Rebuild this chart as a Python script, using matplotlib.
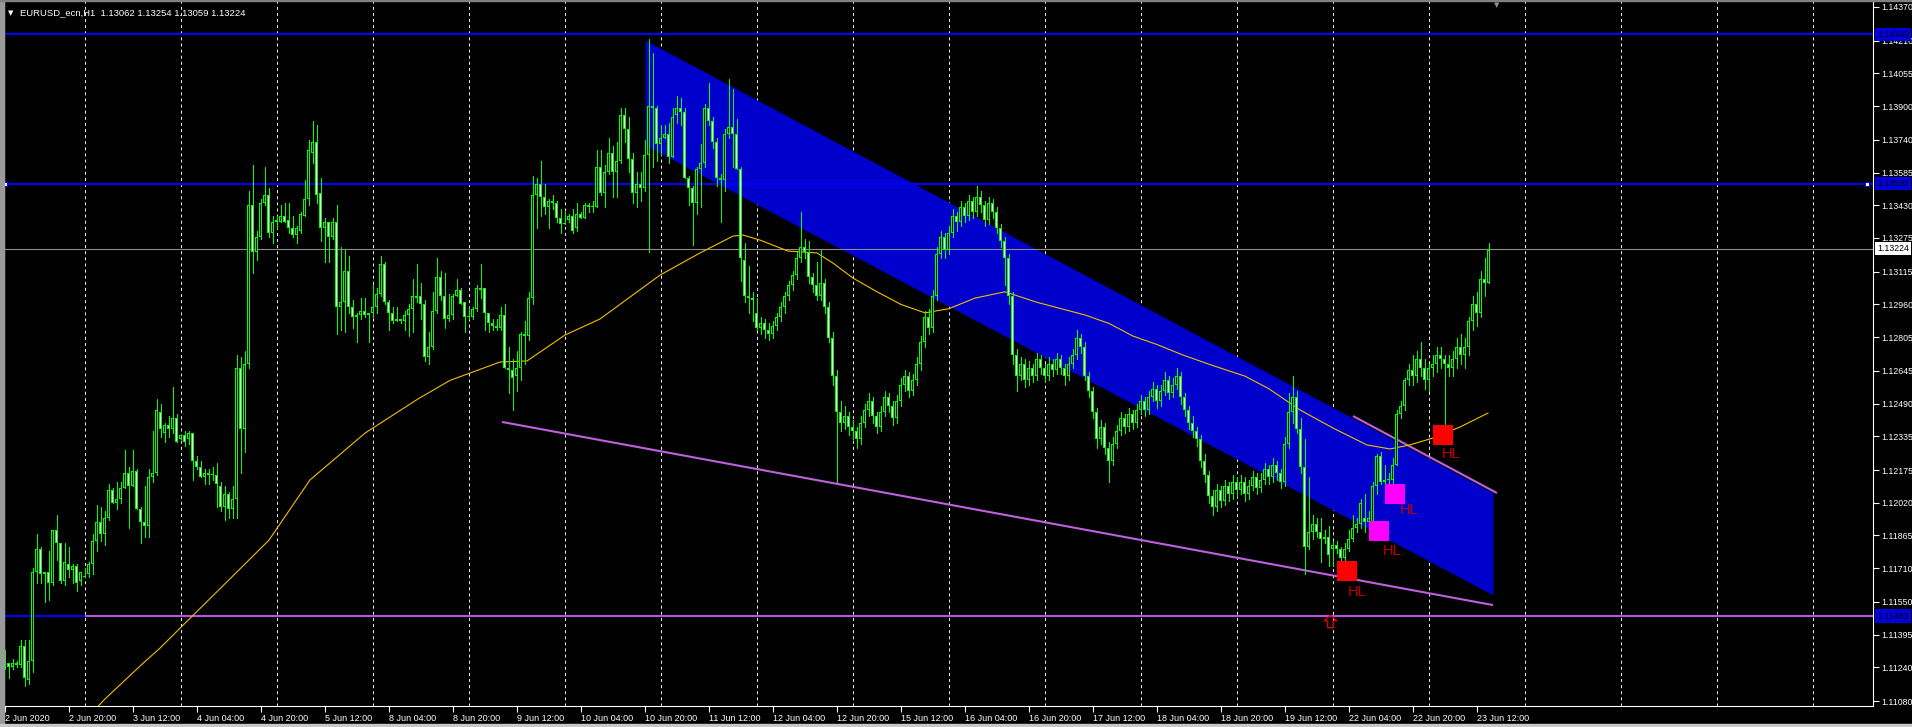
import matplotlib
matplotlib.use("Agg")
import matplotlib.pyplot as plt
from matplotlib.patches import Rectangle
from matplotlib.path import Path

plt.rcParams['font.family'] = ['Liberation Sans', 'DejaVu Sans']
plt.rcParams['lines.scale_dashes'] = False

# EURUSD H1, 2 Jun 2020 04:00 .. 23 Jun 2020 15:00
# prices in pips above 1.1000
BASE = 1.1
PIP = 0.0001

o_pips = [
    131, 126, 124, 126, 125, 134, 118, 127, 169, 180, 168, 169, 164, 189, 183, 165, 173, 170, 172, 165,
    167, 168, 173, 184, 193, 187, 195, 208, 202, 204, 209, 216, 210, 217, 199, 193, 191, 214, 216, 245, 235, 239, 237, 242,
    232, 234, 232, 235, 222, 219, 214, 216, 215, 215, 210, 200, 206, 199, 204, 266, 237, 268, 343, 321, 328, 344, 348, 330,
    335, 335, 338, 336, 332, 329, 331, 338, 346, 368, 373, 349, 332, 335, 328, 335, 295, 297, 312, 295, 290, 291, 293, 291,
    292, 295, 301, 315, 297, 292, 288, 289, 288, 291, 294, 300, 300, 296, 271, 276, 293, 309, 300, 289, 291, 300, 303, 297,
    290, 290, 294, 304, 304, 292, 287, 286, 285, 291, 266, 265, 262, 266, 282, 281, 299, 348, 353, 347, 342, 345, 344, 337,
    334, 336, 338, 332, 339, 337, 343, 342, 342, 361, 349, 359, 368, 359, 364, 386, 379, 365, 349, 353, 351, 367, 390, 389,
    372, 375, 377, 366, 386, 389, 387, 356, 351, 344, 360, 363, 389, 383, 373, 356, 355, 377, 380, 377, 360, 317, 300, 299,
    292, 285, 287, 284, 282, 286, 290, 295, 300, 305, 310, 318, 323, 321, 309, 305, 300, 306, 295, 280, 262, 245, 240, 243,
    238, 236, 232, 240, 246, 250, 243, 238, 245, 252, 248, 242, 250, 258, 262, 255, 260, 268, 278, 290, 285, 300, 320, 328,
    322, 330, 338, 335, 342, 338, 345, 340, 347, 343, 336, 344, 340, 332, 326, 318, 300, 272, 262, 268, 260, 266, 262, 270,
    266, 262, 268, 265, 270, 266, 262, 268, 272, 280, 276, 262, 255, 245, 232, 238, 228, 222, 230, 236, 242, 238, 244, 240,
    246, 250, 246, 252, 256, 250, 255, 260, 254, 258, 262, 252, 246, 240, 236, 232, 222, 215, 205, 200, 208, 203, 210, 206,
    212, 208, 212, 206, 210, 214, 209, 213, 218, 214, 220, 216, 212, 230, 245, 252, 237, 219, 181, 188, 192, 188, 185, 186,
    180, 182, 180, 176, 180, 185, 190, 192, 195, 193, 193, 210, 224, 212, 213, 213, 220, 244, 248, 260, 265, 262, 270, 266,
    260, 266, 268, 272, 270, 268, 266, 270, 276, 272, 276, 288, 296, 292, 308, 306,
]
h_pips = [
    132, 126, 128, 127, 137, 137, 137, 171, 187, 181, 169, 179, 189, 196, 183, 183, 181, 173, 173, 169,
    171, 174, 187, 201, 200, 198, 211, 209, 212, 212, 227, 219, 227, 218, 200, 210, 218, 236, 251, 249, 240, 243, 257, 244,
    234, 236, 236, 235, 224, 222, 218, 218, 219, 221, 212, 210, 207, 210, 272, 271, 274, 350, 362, 331, 346, 361, 351, 338,
    338, 343, 344, 344, 338, 333, 340, 355, 374, 383, 381, 356, 337, 335, 337, 343, 323, 322, 319, 298, 292, 299, 299, 292,
    305, 304, 319, 316, 298, 295, 295, 289, 293, 296, 308, 315, 306, 298, 283, 302, 318, 312, 311, 301, 301, 308, 304, 297,
    295, 295, 305, 315, 304, 292, 289, 289, 295, 296, 276, 270, 274, 283, 288, 302, 357, 356, 364, 353, 346, 348, 345, 341,
    340, 339, 341, 344, 340, 344, 344, 345, 369, 369, 362, 375, 371, 373, 389, 389, 385, 368, 359, 359, 374, 422, 415, 390,
    381, 381, 382, 389, 395, 394, 389, 357, 352, 361, 372, 391, 401, 385, 375, 358, 379, 403, 398, 384, 361, 325, 314, 302,
    299, 290, 289, 287, 288, 292, 297, 302, 307, 312, 321, 340, 327, 326, 311, 316, 322, 308, 297, 283, 265, 250, 248, 245,
    241, 238, 243, 249, 254, 252, 245, 248, 255, 254, 250, 253, 261, 265, 264, 263, 271, 281, 293, 294, 303, 323, 331, 330,
    333, 341, 340, 345, 344, 348, 347, 352, 350, 345, 347, 346, 342, 334, 328, 320, 302, 275, 271, 270, 269, 268, 273, 272,
    268, 271, 270, 273, 272, 268, 271, 275, 284, 282, 278, 264, 257, 247, 241, 240, 231, 233, 239, 245, 244, 247, 246, 249,
    253, 252, 255, 259, 258, 258, 264, 262, 261, 266, 264, 254, 248, 243, 238, 234, 225, 217, 208, 211, 210, 213, 212, 215,
    214, 215, 214, 213, 217, 216, 216, 221, 220, 223, 222, 218, 233, 254, 262, 255, 242, 232, 214, 196, 195, 195, 189, 191,
    184, 184, 181, 183, 189, 196, 195, 204, 206, 198, 212, 225, 226, 220, 216, 223, 246, 250, 261, 268, 272, 274, 278, 270,
    268, 272, 276, 276, 272, 272, 274, 280, 282, 280, 290, 300, 302, 312, 318, 325,
]
l_pips = [
    123, 119, 123, 124, 124, 115, 116, 122, 164, 164, 155, 156, 163, 175, 164, 163, 167, 164, 160, 163,
    167, 167, 168, 179, 184, 182, 194, 202, 199, 202, 209, 190, 210, 199, 183, 186, 186, 212, 215, 233, 231, 233, 235, 231,
    232, 229, 230, 213, 218, 214, 211, 211, 213, 200, 198, 194, 195, 195, 195, 216, 226, 266, 311, 317, 327, 343, 328, 325,
    332, 335, 335, 330, 328, 325, 330, 338, 343, 363, 344, 326, 316, 316, 327, 282, 284, 283, 292, 285, 278, 289, 290, 278,
    290, 292, 300, 296, 284, 287, 288, 287, 284, 281, 283, 297, 289, 269, 268, 275, 292, 298, 285, 288, 289, 300, 296, 283,
    289, 289, 293, 299, 284, 283, 284, 284, 284, 266, 254, 246, 255, 260, 268, 279, 296, 332, 338, 339, 332, 341, 335, 330,
    334, 335, 330, 331, 337, 337, 340, 340, 342, 348, 342, 358, 347, 347, 363, 373, 359, 344, 342, 345, 350, 321, 361, 364,
    367, 375, 363, 366, 382, 381, 356, 343, 324, 339, 342, 361, 381, 370, 352, 335, 350, 375, 361, 360, 307, 297, 292, 288,
    284, 282, 280, 279, 280, 284, 288, 292, 298, 303, 308, 316, 318, 306, 302, 298, 298, 292, 278, 258, 212, 236, 237, 234,
    232, 228, 230, 238, 243, 240, 235, 236, 243, 245, 239, 240, 248, 255, 252, 253, 258, 265, 276, 282, 283, 298, 318, 318,
    320, 328, 331, 333, 335, 336, 337, 338, 340, 333, 334, 337, 330, 323, 305, 296, 268, 255, 260, 257, 258, 259, 260, 263,
    259, 260, 262, 263, 263, 258, 260, 266, 270, 273, 260, 252, 242, 228, 230, 225, 212, 220, 228, 234, 235, 236, 237, 238,
    244, 243, 244, 250, 247, 248, 253, 251, 252, 256, 249, 243, 237, 233, 229, 219, 212, 202, 196, 198, 200, 201, 203, 204,
    205, 206, 203, 204, 208, 206, 207, 211, 211, 212, 213, 209, 210, 228, 240, 235, 216, 168, 180, 185, 186, 174, 183, 172,
    172, 178, 168, 175, 179, 184, 188, 190, 188, 190, 190, 206, 211, 208, 202, 211, 220, 242, 246, 258, 258, 259, 262, 256,
    255, 262, 264, 266, 233, 262, 262, 266, 268, 266, 272, 284, 286, 290, 300, 306,
]
c_pips = [
    126, 124, 126, 125, 134, 119, 127, 169, 180, 168, 169, 164, 189, 183, 165, 174, 170, 172, 164, 169,
    167, 173, 184, 193, 187, 195, 208, 202, 204, 209, 216, 210, 217, 199, 193, 191, 214, 216, 246, 237, 239, 237, 242, 231,
    234, 231, 235, 222, 219, 214, 216, 215, 215, 211, 200, 206, 199, 204, 266, 237, 268, 343, 321, 328, 344, 348, 330, 335,
    336, 338, 335, 332, 329, 332, 339, 346, 369, 373, 348, 332, 335, 328, 335, 295, 297, 312, 295, 290, 291, 293, 291, 292,
    295, 301, 315, 297, 292, 288, 289, 288, 291, 294, 300, 299, 296, 271, 276, 293, 309, 300, 289, 291, 300, 303, 296, 290,
    290, 294, 304, 303, 292, 287, 286, 285, 291, 266, 265, 261, 266, 282, 281, 299, 348, 353, 347, 342, 345, 344, 337, 334,
    334, 338, 331, 339, 337, 343, 342, 342, 361, 349, 359, 368, 359, 364, 386, 379, 365, 349, 353, 351, 367, 390, 389, 372,
    375, 377, 366, 385, 389, 387, 356, 351, 344, 360, 363, 389, 383, 373, 356, 355, 377, 380, 377, 360, 318, 300, 299, 298,
    285, 287, 284, 282, 286, 290, 295, 300, 305, 310, 318, 323, 321, 309, 305, 300, 306, 295, 280, 262, 245, 240, 243, 238,
    236, 232, 240, 246, 250, 243, 238, 245, 252, 248, 242, 250, 258, 262, 255, 260, 268, 278, 290, 285, 300, 320, 328, 322,
    330, 338, 335, 342, 338, 345, 340, 347, 343, 336, 344, 340, 332, 326, 318, 300, 272, 262, 268, 260, 266, 262, 270, 266,
    262, 268, 265, 270, 266, 262, 268, 272, 280, 276, 262, 255, 245, 232, 238, 228, 222, 230, 236, 242, 238, 244, 240, 246,
    250, 246, 252, 256, 250, 255, 260, 254, 258, 262, 252, 246, 240, 236, 232, 222, 215, 205, 200, 208, 203, 210, 206, 212,
    208, 212, 206, 210, 214, 209, 213, 218, 214, 220, 216, 212, 230, 245, 252, 237, 219, 181, 188, 192, 188, 185, 186, 177,
    182, 180, 176, 180, 185, 190, 192, 202, 193, 195, 210, 224, 212, 213, 213, 220, 244, 248, 260, 265, 262, 270, 266, 260,
    266, 268, 272, 270, 268, 266, 270, 276, 272, 276, 288, 296, 292, 308, 306, 322,
]

# moving average (bar index, pips)
ma_bars = [23, 25, 33.75, 38.75, 44, 55, 66, 76.25, 90, 103.25, 111.25, 123.75, 130.5, 140, 148.75,
           163.75, 173.75, 182, 184.5, 188.75, 195.75, 203, 207, 212, 218, 224, 230, 236, 242.5,
           250, 258, 264, 270, 276, 282, 288, 294.5, 302, 310, 316, 323.75, 332, 340.5, 346.25,
           351.25, 357, 363.75, 370.75]
ma_pips = [105, 109, 124.6, 133.1, 143, 163.6, 184.3, 212.8, 235, 251.2, 260, 268.7, 269.2, 281.5, 289.1,
           309.9, 320.4, 328.4, 328.9, 326.5, 321.3, 320.4, 315.6, 308.5, 302, 296, 292, 294, 299,
           302, 297, 294, 291, 287, 281, 277, 272, 267, 262, 256, 246, 237.4, 229.4, 227.5,
           229.4, 232.7, 237.9, 244.5]

# objects
channel_bars = [160, 372]
channel_top = [421.3, 206.6]
channel_bottom = [371.6, 158.3]
support_bars = [124.25, 372]
support_pips = [240.3, 153.5]
resist_bars = [337, 373]
resist_pips = [243.1, 206.6]

hl_bars = [335.5, 343.5, 347.5, 359.5]
hl_pips = [169.6, 188.6, 206.1, 234.1]
hl_colors = ['#FF0000', '#FF00FF', '#FF00FF', '#FF0000']
hl_text_bars = [338, 346.75, 351, 361.5]
hl_text_pips = [159.7, 179.1, 198.5, 225.1]
arrow_bar, arrow_pips = 331.25, 145.9

level_blue = [1.14240, 1.13532, 1.11483]
level_violet = 1.11483
bid = 1.13224
title = "EURUSD_ecn,H1  1.13062 1.13254 1.13059 1.13224"

price_ticks = [1.14370, 1.14210, 1.14055, 1.13900, 1.13740, 1.13585, 1.13430, 1.13275, 1.13115,
               1.12960, 1.12805, 1.12645, 1.12490, 1.12335, 1.12175, 1.12020, 1.11865, 1.11710,
               1.11550, 1.11395, 1.11240, 1.11080]
time_labels = ["2 Jun 2020", "2 Jun 20:00", "3 Jun 12:00", "4 Jun 04:00", "4 Jun 20:00", "5 Jun 12:00",
               "8 Jun 04:00", "8 Jun 20:00", "9 Jun 12:00", "10 Jun 04:00", "10 Jun 20:00", "11 Jun 12:00",
               "12 Jun 04:00", "12 Jun 20:00", "15 Jun 12:00", "16 Jun 04:00", "16 Jun 20:00", "17 Jun 12:00",
               "18 Jun 04:00", "18 Jun 20:00", "19 Jun 12:00", "22 Jun 04:00", "22 Jun 20:00", "23 Jun 12:00"]
label_every = 16
day_bars = 24
first_midnight = 20


def to_price(v):
    return BASE + v * PIP


opens = [to_price(v) for v in o_pips]
highs = [to_price(v) for v in h_pips]
lows = [to_price(v) for v in l_pips]
closes = [to_price(v) for v in c_pips]
n = len(closes)
bars = list(range(n))

W, H = 1912, 727
fig = plt.figure(figsize=(W / 100, H / 100), dpi=100, facecolor='black')
ax = fig.add_axes([4 / W, 21 / H, 1869 / W, 706 / H], facecolor='black')
ax.set_xlim(-0.25, 467)
ax.set_ylim(1.110566, 1.144030)
px_price = (1.144030 - 1.110566) / 706   # one screen pixel in price units

# day separators
for d in range(first_midnight, 467, day_bars):
    ax.axvline(d, color='#E8E8E8', lw=0.72, linestyle=(0, (2.2, 2.2)), zorder=0.5)

# channel
ax.fill_between(channel_bars, [to_price(v) for v in channel_bottom],
                [to_price(v) for v in channel_top], color='#0000CD', lw=0, zorder=1)

# horizontal levels
for lv in level_blue:
    ax.axhline(lv, color='#0000FF', lw=1.5, zorder=1.5)
ax.hlines(level_violet, first_midnight, 467, color='#B655DA', lw=1.5, zorder=1.6)
ax.axhline(bid, color='#8C8C8C', lw=0.8, zorder=1.5)
ax.plot([0, 465.5], [level_blue[1]] * 2, ls='none', marker='s', ms=3,
        mfc='white', mec='#0000FF', mew=0.7, zorder=2)

# trend lines
ax.plot(support_bars, [to_price(v) for v in support_pips], color='#C060E0', lw=1.5,
        solid_capstyle='butt', zorder=2)
ax.plot(resist_bars, [to_price(v) for v in resist_pips], color='#C060E0', lw=1.5,
        solid_capstyle='butt', zorder=2)

# moving average
ax.plot(ma_bars, [to_price(v) for v in ma_pips], color='#F0C000', lw=0.8, zorder=2.5)

# candles: 1px wick, 3px lime body, 1px inner fill (white = bear, black = bull)
ax.vlines(bars, lows, highs, color='#00FF00', lw=0.72, zorder=3, antialiased=False)
bottoms = [min(o, c) for o, c in zip(opens, closes)]
heights = [max(abs(c - o), px_price) for o, c in zip(opens, closes)]
ax.bar(bars, heights, bottom=bottoms, width=0.75, color='#00FF00', linewidth=0,
       zorder=4, antialiased=False)
inner = [(b, bt + px_price, h - 2 * px_price, 'white' if c < o else 'black')
         for b, bt, h, o, c in zip(bars, bottoms, heights, opens, closes) if h > 2.5 * px_price]
ax.bar([t[0] for t in inner], [t[2] for t in inner], bottom=[t[1] for t in inner], width=0.25,
       color=[t[3] for t in inner], linewidth=0, zorder=4.5, antialiased=False)

# HL markers
ax.scatter(hl_bars, [to_price(v) for v in hl_pips], marker='s', s=200, c=hl_colors,
           linewidths=0, zorder=5)
for b, v in zip(hl_text_bars, hl_text_pips):
    ax.text(b, to_price(v), 'HL', color='#C00000', fontsize=10.5, ha='center', va='center', zorder=6)

# hollow up arrow
arrow_path = Path([(0, 1), (-1, 0.1), (-0.45, 0.1), (-0.45, -1), (0.45, -1), (0.45, 0.1),
                   (1, 0.1), (0, 1)], closed=True)
ax.plot([arrow_bar], [to_price(arrow_pips)], marker=arrow_path, ms=9, mfc='none',
        mec='#DD0000', mew=1.0, ls='none', zorder=6)

# axes styling
ax.spines['top'].set_visible(False)
for side in ['left', 'bottom', 'right']:
    ax.spines[side].set_color('white')
    ax.spines[side].set_linewidth(0.8)
ax.yaxis.tick_right()
ax.set_yticks(price_ticks)
ax.set_yticklabels([f"{v:.5f}" for v in price_ticks])
ax.tick_params(axis='y', colors='white', labelsize=6.3, length=4, width=0.8, pad=2)
ax.set_xticks(list(range(0, label_every * len(time_labels), label_every)))
ax.set_xticklabels(time_labels, ha='left')
ax.tick_params(axis='x', colors='white', labelsize=6.5, length=4, width=0.8, pad=2)

# highlighted prices on the scale
for price, face in [(level_blue[0], '#0000E0'), (level_blue[1], '#0000E0'),
                    (bid, 'white'), (level_blue[2], '#0000E0')]:
    ax.annotate(f"{price:.5f}", xy=(1, price), xycoords=('axes fraction', 'data'),
                xytext=(4, 0), textcoords='offset pixels', ha='left', va='center',
                fontsize=6.3, color='black', annotation_clip=False, zorder=7,
                bbox=dict(boxstyle='square,pad=0.25', fc=face, ec='none'))

# title and frame bits
fig.text(8 / W, 1 - 13 / H, '\u25bc', color='white', fontsize=5, family='DejaVu Sans', va='center')
fig.text(20 / W, 1 - 13 / H, title, color='white', fontsize=6.8, va='center')
fig.text(1497 / W, 1 - 5 / H, '\u25bc', color='#909090', fontsize=5, family='DejaVu Sans',
         ha='center', va='center')
fig.patches.append(Rectangle((0, 0), 4 / W, 1, transform=fig.transFigure, color='#9A9A9A'))
fig.patches.append(Rectangle((0, 0), 1, 3 / H, transform=fig.transFigure, color='#C8C8C8'))
fig.patches.append(Rectangle((0, 1 - 1 / H), 1, 1 / H, transform=fig.transFigure, color='#808080'))

fig.savefig('out.png', dpi=100, facecolor='black')
